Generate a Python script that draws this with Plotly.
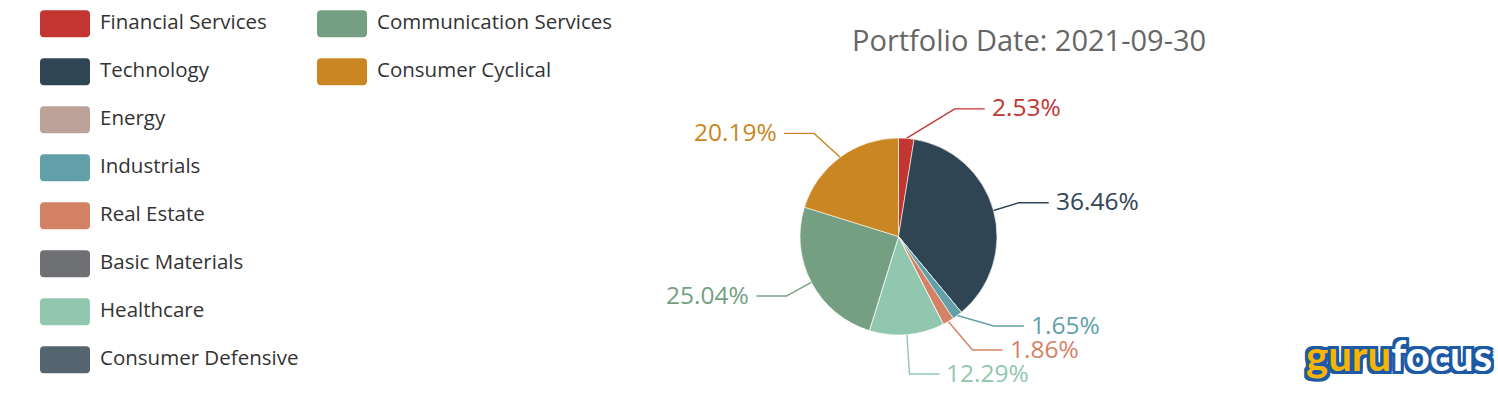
import math
import plotly.graph_objects as go

# ---------------- data ----------------
sectors = ["Financial Services", "Technology", "Energy", "Industrials", "Real Estate",
           "Basic Materials", "Healthcare", "Consumer Defensive",
           "Communication Services", "Consumer Cyclical"]
weights = [2.53, 36.46, 0, 1.65, 1.86, 0, 12.29, 0, 25.04, 20.19]
colors = ["#c23531", "#2f4554", "#bda29a", "#61a0a8", "#d48265",
          "#6e7074", "#91c7ae", "#546570", "#749f83", "#ca8622"]
title_text = "Portfolio Date: 2021-09-30"

# ---------------- layout constants ----------------
W, H = 1498, 396
CX, CY, R = 898.5, 236.5, 98.5
LEN1, LEN2 = 29.5, 30          # leader line segment lengths
END_R = 154                    # circle on which leader lines end
FONT = "Open Sans, Noto Sans, sans-serif"

fig = go.Figure()

fig.add_trace(go.Pie(
    labels=sectors, values=weights, sort=False, direction="clockwise", rotation=0,
    marker=dict(colors=colors, line=dict(color="white", width=0.6)),
    textinfo="none", hoverinfo="label+percent", showlegend=False,
    domain=dict(x=[(CX - R) / W, (CX + R) / W], y=[(H - CY - R) / H, (H - CY + R) / H]),
))

# ---------------- outside labels with leader lines ----------------
total = sum(weights)
A = R + LEN1
items = []
cum = 0.0
for name, v, c in zip(sectors, weights, colors):
    if v <= 0:
        continue
    mid = (cum + v / 2) / total * 2 * math.pi
    cum += v
    s, co = math.sin(mid), math.cos(mid)
    items.append(dict(v=v, c=c, s=s, sx=CX + R * s, sy=CY - R * co,
                      ey=CY - A * co, side=1 if s >= 0 else -1))

GAP = 24
for side in (1, -1):
    grp = sorted([it for it in items if it["side"] == side], key=lambda d: d["ey"])
    clusters = [[it] for it in grp]
    changed = True
    while changed:
        changed = False
        for k in range(len(clusters) - 1):
            a, b = clusters[k], clusters[k + 1]
            mean_a = sum(i["ey"] for i in a) / len(a)
            mean_b = sum(i["ey"] for i in b) / len(b)
            top_a = mean_a + (len(a) - 1) / 2 * GAP
            bot_b = mean_b - (len(b) - 1) / 2 * GAP
            if bot_b - top_a < GAP:
                clusters[k] = a + b
                del clusters[k + 1]
                changed = True
                break
    for cl in clusters:
        m = sum(i["ey"] for i in cl) / len(cl)
        for j, it in enumerate(cl):
            it["ly"] = m + (j - (len(cl) - 1) / 2) * GAP

for it in items:
    dy = abs(it["ly"] - CY)
    if dy < A:
        dx = math.sqrt(END_R ** 2 - dy ** 2)
    else:
        dx = abs(A * it["s"]) + LEN2
    endx = CX + it["side"] * dx
    ex = endx - it["side"] * LEN2
    fig.add_trace(go.Scatter(
        x=[it["sx"], ex, endx], y=[it["sy"], it["ly"], it["ly"]], mode="lines",
        line=dict(color=it["c"], width=1.4), hoverinfo="skip", showlegend=False))
    fig.add_annotation(
        x=endx + it["side"] * 5, y=it["ly"] - 2, xref="x", yref="y",
        text=f"{it['v']:.2f}%", showarrow=False,
        xanchor="left" if it["side"] > 0 else "right", yanchor="middle",
        font=dict(family=FONT, size=24.5, color=it["c"]))

# ---------------- custom legend ----------------
shapes = []
per_col = 8
for i, (name, c) in enumerate(zip(sectors, colors)):
    col, row = divmod(i, per_col)
    x0 = 40 + col * 277
    yc = 23.7 + row * 48
    w, h, rr = 50, 27, 4
    y0, y1, x1 = yc - h / 2, yc + h / 2, x0 + w
    path = (f"M{x0 + rr},{y0} L{x1 - rr},{y0} Q{x1},{y0} {x1},{y0 + rr} "
            f"L{x1},{y1 - rr} Q{x1},{y1} {x1 - rr},{y1} L{x0 + rr},{y1} "
            f"Q{x0},{y1} {x0},{y1 - rr} L{x0},{y0 + rr} Q{x0},{y0} {x0 + rr},{y0} Z")
    shapes.append(dict(type="path", path=path, xref="x", yref="y",
                       fillcolor=c, line=dict(width=0)))
    fig.add_annotation(x=x0 + 58, y=yc - 2.5, xref="x", yref="y", text=name, showarrow=False,
                       xanchor="left", yanchor="middle",
                       font=dict(family=FONT, size=20.5, color="#333333"))

# ---------------- title ----------------
fig.add_annotation(x=1029, y=39, xref="x", yref="y", text=title_text, showarrow=False,
                   xanchor="center", yanchor="middle",
                   font=dict(family=FONT, size=29, color="#666666"))

# ---------------- logo ----------------
blue = "#1c5aa6"
outline = ", ".join(f"{dx}px {dy}px 0 {blue}" for dx in (-3, 0, 3) for dy in (-3, 0, 3)
                    if (dx, dy) != (0, 0))
fig.add_annotation(x=1399, y=355, xref="x", yref="y",
                   text="<span style='color:#f7b500'>guru</span>focus",
                   showarrow=False, xanchor="center", yanchor="middle",
                   font=dict(family="Lato, Liberation Sans, sans-serif",
                             size=42, color="white", weight="bold", shadow=outline))

fig.update_layout(
    width=W, height=H, margin=dict(l=0, r=0, t=0, b=0),
    paper_bgcolor="white", plot_bgcolor="white",
    xaxis=dict(range=[0, W], visible=False, fixedrange=True),
    yaxis=dict(range=[H, 0], visible=False, fixedrange=True),
    shapes=shapes, showlegend=False,
)

fig.write_html("out.html")
